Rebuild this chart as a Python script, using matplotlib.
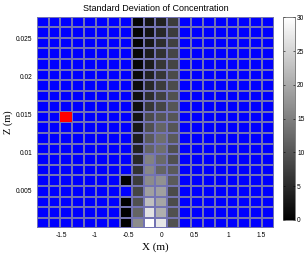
import numpy as np
import matplotlib
matplotlib.use("Agg")
import matplotlib.pyplot as plt
from matplotlib.colors import ListedColormap

# ---- data (values on 0..30 scale), rows listed bottom -> top ----
n_cols = 20
n_rows = 20
x_left, x_right = -1.869, 1.69
z_bottom, z_top = 0.0, 0.0278

col7_rows = [0, 1, 2, 4]          # black cells in column 7
col7_vals = [0.2, 0.2, 0.2, 0.2]

col8 = [16.5, 11.8, 9.4, 8.2, 7.1, 5.9, 4.7, 4.1, 3.5, 2.9,
        2.4, 1.8, 1.8, 1.4, 1.2, 0.9, 0.9, 0.6, 0.6, 0.6]
col9 = [30.0, 26.5, 22.4, 18.8, 16.5, 15.9, 15.3, 11.8, 10.6, 9.4,
        8.8, 6.5, 5.3, 4.7, 4.1, 3.5, 3.5, 2.9, 2.4, 2.4]
col10 = [27.1, 20.6, 19.4, 18.8, 17.1, 11.8, 12.4, 12.9, 12.9, 11.8,
         10.0, 8.2, 7.6, 7.1, 6.5, 6.5, 5.9, 5.3, 4.7, 4.1]
col11 = [9.4, 9.4, 8.8, 8.8, 10.6, 10.6, 9.4, 9.4, 10.6, 10.0,
         10.0, 10.0, 9.4, 8.8, 8.8, 8.2, 8.2, 7.6, 7.1, 7.1]

red_cell = (10, 2)  # (row, col)

x_ticks = [-1.5, -1, -0.5, 0, 0.5, 1, 1.5]
x_ticklabels = ["-1.5", "-1", "-0.5", "0", "0.5", "1", "1.5"]
z_ticks = [0.005, 0.01, 0.015, 0.02, 0.025]
z_ticklabels = ["0.005", "0.01", "0.015", "0.02", "0.025"]
cbar_ticks = [0, 5, 10, 15, 20, 25, 30]

# ---- build grid ----
data = np.full((n_rows, n_cols), np.nan)
for r, v in zip(col7_rows, col7_vals):
    data[r, 7] = v
data[:, 8] = col8
data[:, 9] = col9
data[:, 10] = col10
data[:, 11] = col11
data = np.ma.masked_invalid(data)

red = np.full((n_rows, n_cols), np.nan)
red[red_cell] = 1.0
red = np.ma.masked_invalid(red)

xe = np.linspace(x_left, x_right, n_cols + 1)
ze = np.linspace(z_bottom, z_top, n_rows + 1)

fig = plt.figure(figsize=(3.08, 2.57), dpi=100)
ax = fig.add_axes([0.119, 0.1117, 0.771, 0.8233])

cmap = plt.get_cmap("gray").copy()
cmap.set_bad((0, 0, 1))
mesh = ax.pcolormesh(xe, ze, data, cmap=cmap, vmin=0, vmax=30,
                     edgecolors=(0.45, 0.45, 0.7), linewidth=0.25)
rcmap = ListedColormap([(1, 0, 0)])
rcmap.set_bad((0, 0, 0, 0))
ax.pcolormesh(xe, ze, red, cmap=rcmap, vmin=0, vmax=2,
              edgecolors='none', linewidth=0)

ax.set_xlim(x_left, x_right)
ax.set_ylim(z_bottom, z_top)
ax.set_xticks(x_ticks)
ax.set_xticklabels(x_ticklabels)
ax.set_yticks(z_ticks)
ax.set_yticklabels(z_ticklabels)
ax.tick_params(length=0, labelsize=4.8, pad=3)
for lab in ax.get_xticklabels() + ax.get_yticklabels():
    lab.set_family("Liberation Sans")
for s in ax.spines.values():
    s.set_visible(False)

ax.set_title("Standard Deviation of Concentration", fontsize=6.5,
             family="Liberation Sans", pad=4)
ax.set_xlabel("X (m)", fontsize=8, family="Liberation Serif", labelpad=2)
ax.set_ylabel("Z (m)", fontsize=7.5, family="Liberation Serif", labelpad=2)

cax = fig.add_axes([0.920, 0.144, 0.038, 0.789])
cb = fig.colorbar(mesh, cax=cax, ticks=cbar_ticks)
cb.ax.tick_params(labelsize=4.8, length=1.5, width=0.4, direction='in',
                  left=True, right=True, pad=1.5)
for lab in cb.ax.get_yticklabels():
    lab.set_family("Liberation Sans")
cb.outline.set_linewidth(0.5)
cb.outline.set_edgecolor((0.3, 0.3, 0.3))

fig.savefig("out.png", dpi=100)
